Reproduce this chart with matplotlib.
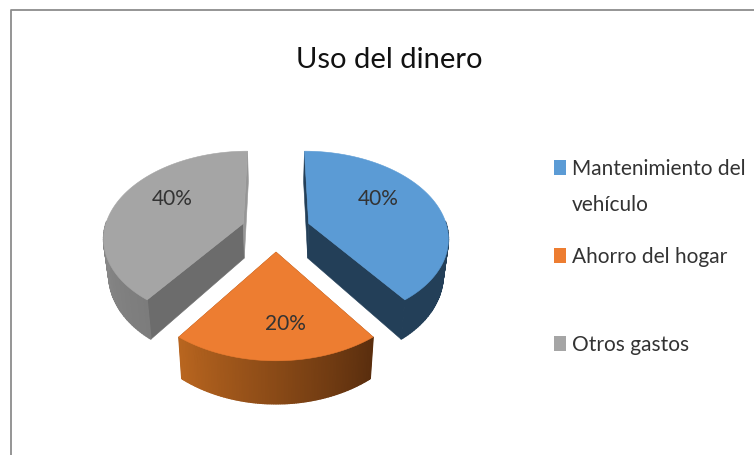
import numpy as np
import matplotlib
matplotlib.use('Agg')
import matplotlib.pyplot as plt
from matplotlib.colors import to_rgb
from matplotlib.patches import Rectangle, Polygon

plt.rcParams['font.family'] = ['Lato', 'DejaVu Sans']

title = 'Uso del dinero'
categories = ['Mantenimiento del\nvehículo', 'Ahorro del hogar', 'Otros gastos']
values = [40, 20, 40]
top_colors = ['#5b9bd5', '#ed7d31', '#a5a5a5']
cut_colors = ['#233f58', '#8f4a1c', '#6c6c6c']
# rim gradient, from the clockwise start of the slice to its end
rim_colors = [('#233f58', '#233f58'), ('#5a2e0e', '#b8651f'), ('#7c7c7c', '#a0a0a0')]
label_pos = [(378, 199), (285, 324), (172, 199)]
legend_y = [169, 257, 345]

# perspective of the tilted pie, in pixels of the picture
CX, CY = 276, 231
A, B = 139, 85
K = 0.15
EXPLODE = 0.25
DEPTH = 35
LOW_X = 0.97


def project(u, v, low=False):
    s = 1 / (1 + K * v)
    x = A * u * s
    y = CY - B * v * s
    if low:
        return CX + x * LOW_X, y + DEPTH * s
    return CX + x, y


def mix(c1, c2, t):
    c1, c2 = np.array(to_rgb(c1)), np.array(to_rgb(c2))
    return tuple(c1 + (c2 - c1) * t)


fig = plt.figure(figsize=(7.54, 4.56), dpi=100)
ax = fig.add_axes([0, 0, 1, 1])
ax.set_xlim(0, 754)
ax.set_ylim(456, 0)
ax.axis('off')

# chart frame, cut off by the screenshot at the right and bottom
ax.plot([10.5, 10.5, 754], [456, 10.5, 10.5], color='#8c8c8c', lw=1.3)

ax.text(389, 60, title, fontsize=21, color='#111111', ha='center', va='center')

# slices, angles clockwise from the top
total = sum(values)
edges = np.concatenate([[0], np.cumsum(values)]) / total * 2 * np.pi
slices = []
for i in range(len(values)):
    mid = (edges[i] + edges[i + 1]) / 2
    slices.append((i, edges[i], edges[i + 1], EXPLODE * np.sin(mid), EXPLODE * np.cos(mid)))

for i, a0, a1, u0, v0 in [slices[2], slices[0], slices[1]]:
    ang = np.linspace(a0, a1, 120)
    u = u0 + np.sin(ang)
    v = v0 + np.cos(ang)

    # cut faces
    for j in (0, -1):
        # the gray slice's back face catches the light
        col = '#969696' if (i == 2 and j == -1) else cut_colors[i]
        face = [project(u0, v0), project(u[j], v[j]),
                project(u[j], v[j], True), project(u0, v0, True)]
        ax.add_patch(Polygon(face, closed=True, fc=col, ec=col, lw=0.4))

    # outer rim, only the part facing the viewer, as small strips for the gradient
    for j in range(len(ang) - 1):
        if np.cos((ang[j] + ang[j + 1]) / 2) > 0.02:
            continue
        strip = [project(u[j], v[j]), project(u[j + 1], v[j + 1]),
                 project(u[j + 1], v[j + 1], True), project(u[j], v[j], True)]
        c = mix(rim_colors[i][0], rim_colors[i][1], j / (len(ang) - 2))
        ax.add_patch(Polygon(strip, closed=True, fc=c, ec=c, lw=1.0))

    # top face
    outline = [project(u0, v0)] + [project(a, b) for a, b in zip(u, v)]
    ax.add_patch(Polygon(outline, closed=True, fc=top_colors[i], ec=top_colors[i], lw=0.4))

for val, (x, y) in zip(values, label_pos):
    ax.text(x, y, f'{val}%', fontsize=15, color='#333333', ha='center', va='center')

# legend
for name, col, y in zip(categories, top_colors, legend_y):
    ax.add_patch(Rectangle((554, y - 8), 12, 15, fc=col, ec='none'))
    ax.text(572, y, name.split('\n')[0], fontsize=15, color='#333333', ha='left', va='center')
    if '\n' in name:
        ax.text(572, y + 36, name.split('\n')[1], fontsize=15, color='#333333', ha='left', va='center')

fig.savefig('out.png', dpi=100)
